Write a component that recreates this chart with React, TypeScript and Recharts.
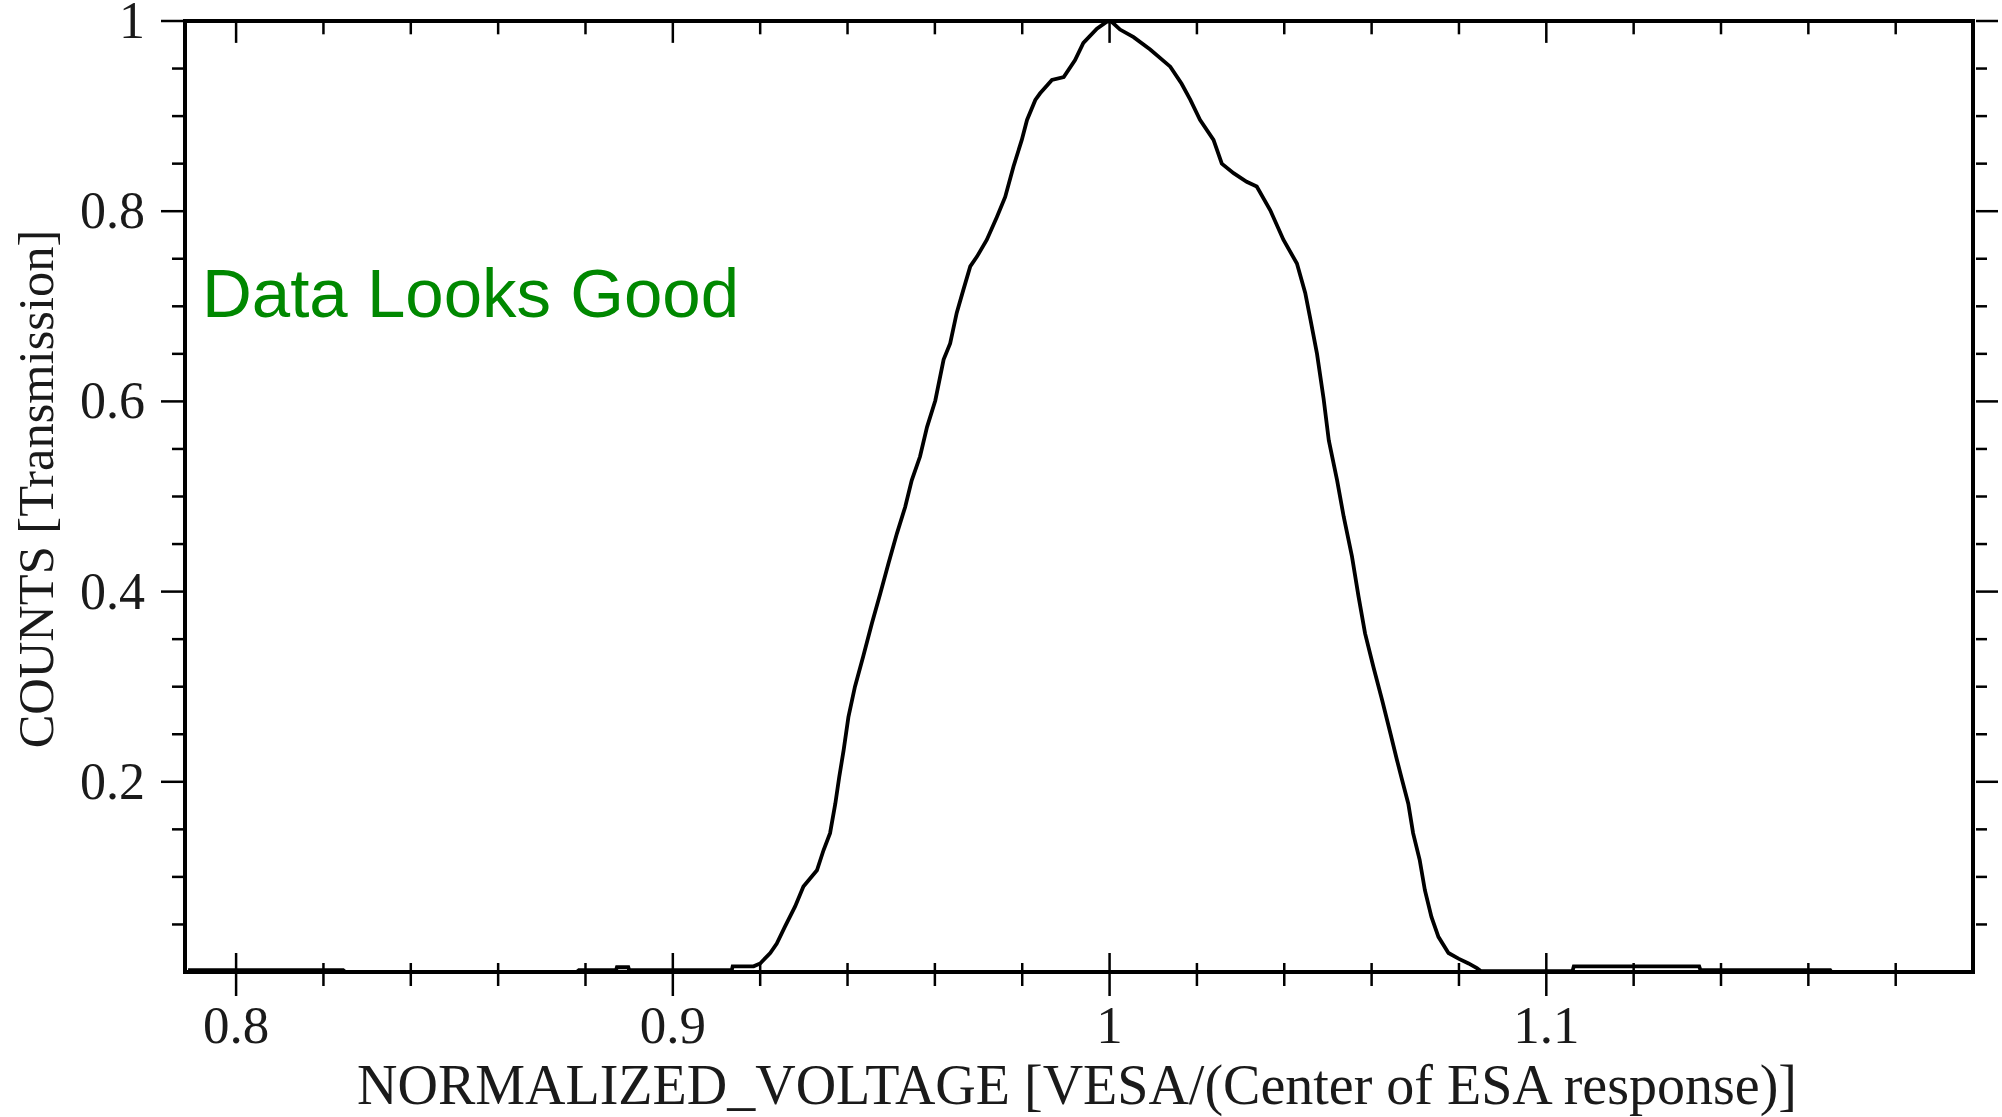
import { LineChart, Line, XAxis, YAxis, ReferenceLine } from "recharts"

// ESA transmission curve
const voltage = [
  0.789, 0.8245, 0.825, 0.878, 0.8785, 0.887, 0.8872, 0.8898, 0.89, 0.9135,
  0.9137, 0.9185, 0.92, 0.9223, 0.9238, 0.9257, 0.928, 0.9299, 0.933, 0.9345,
  0.936, 0.9372, 0.9381, 0.9391, 0.9402, 0.9417, 0.9436, 0.9456, 0.9475, 0.9494,
  0.9513, 0.9532, 0.9547, 0.9566, 0.9582, 0.9601, 0.962, 0.9635, 0.965, 0.9665,
  0.9681, 0.9696, 0.9719, 0.9742, 0.9761, 0.978, 0.9799, 0.9811, 0.983, 0.9841,
  0.9868, 0.9895, 0.9921, 0.994, 0.9971, 0.9993, 1.0003, 1.0024, 1.0055, 1.0093,
  1.0139, 1.0165, 1.0185, 1.0207, 1.0238, 1.0257, 1.0284, 1.0314, 1.0337, 1.0368,
  1.0398, 1.0429, 1.0448, 1.046, 1.0475, 1.049, 1.0502, 1.0521, 1.0536, 1.0555,
  1.057, 1.0585, 1.0604, 1.0624, 1.0643, 1.0658, 1.0668, 1.0684, 1.0695, 1.071,
  1.0722, 1.0737, 1.0753, 1.0776, 1.0799, 1.0822, 1.0841, 1.085, 1.106, 1.1063,
  1.135, 1.1353, 1.165, 1.1653, 1.1977,
]

const counts = [
  0.002, 0.002, 0.0, 0.0, 0.002, 0.002, 0.005, 0.005, 0.002, 0.002,
  0.006, 0.006, 0.009, 0.02, 0.03, 0.048, 0.069, 0.09, 0.107, 0.128,
  0.146, 0.177, 0.205, 0.233, 0.268, 0.3, 0.332, 0.367, 0.398, 0.43,
  0.461, 0.489, 0.517, 0.542, 0.573, 0.601, 0.644, 0.661, 0.693, 0.717,
  0.742, 0.752, 0.77, 0.794, 0.815, 0.847, 0.875, 0.896, 0.917, 0.924,
  0.938, 0.941, 0.959, 0.977, 0.992, 0.999, 1.0, 0.991, 0.983, 0.97,
  0.952, 0.934, 0.917, 0.896, 0.875, 0.85, 0.84, 0.831, 0.826, 0.801,
  0.77, 0.745, 0.714, 0.686, 0.65, 0.603, 0.559, 0.517, 0.479, 0.437,
  0.395, 0.356, 0.321, 0.286, 0.251, 0.223, 0.205, 0.177, 0.146, 0.118,
  0.086, 0.058, 0.037, 0.02, 0.014, 0.009, 0.004, 0.001, 0.001, 0.006,
  0.006, 0.002, 0.002, 0.0, 0.0,
]

const xTicks = [
  0.8, 0.82, 0.84, 0.86, 0.88, 0.9, 0.92, 0.94, 0.96, 0.98,
  1, 1.02, 1.04, 1.06, 1.08, 1.1, 1.12, 1.14, 1.16, 1.18,
]
const xLabels = [0.8, 0.9, 1, 1.1]

const yTicks = [
  0.05, 0.1, 0.15, 0.2, 0.25, 0.3, 0.35, 0.4, 0.45, 0.5,
  0.55, 0.6, 0.65, 0.7, 0.75, 0.8, 0.85, 0.9, 0.95, 1,
]
const yLabels = [0.2, 0.4, 0.6, 0.8, 1]

const xDomain = [0.7883, 1.1977]
const yDomain = [0, 1]

const data = voltage.map((v, i) => ({ x: v, y: counts[i] }))

const W = 2002
const H = 1117
const TOP = 21

const serif = "'Liberation Serif', 'Times New Roman', serif"
const frame = { stroke: "#000", strokeWidth: 4, strokeLinecap: "square" as const }
const isIn = (list: number[], v: number) => list.some((l) => Math.abs(l - v) < 1e-6)

// bottom ticks cross the frame
const BottomTick = (props: any) => {
  const { x, y, payload } = props
  const major = isIn(xLabels, payload.value)
  return (
    <g>
      <line x1={x} x2={x} y1={y - (major ? 19 : 9)} y2={y + (major ? 24 : 14)} stroke="#000" strokeWidth={2.5} />
      {major && (
        <text x={x} y={y + 71} textAnchor="middle" fontFamily={serif} fontSize={53} fill="#1a1a1a">
          {String(payload.value)}
        </text>
      )}
    </g>
  )
}

const LeftTick = (props: any) => {
  const { x, y, payload } = props
  const major = isIn(yLabels, payload.value)
  return (
    <g>
      <line x1={x - (major ? 24 : 13)} x2={x} y1={y} y2={y} stroke="#000" strokeWidth={2.5} />
      {major && (
        <text x={x - 40} y={y + 17} textAnchor="end" fontFamily={serif} fontSize={52} fill="#1a1a1a">
          {String(payload.value)}
        </text>
      )}
    </g>
  )
}

const RightTick = (props: any) => {
  const { x, y, payload } = props
  const major = isIn(yLabels, payload.value)
  return <line x1={x + 3} x2={x + (major ? 25 : 14)} y1={y} y2={y} stroke="#000" strokeWidth={2.5} />
}

export default function App() {
  return (
    <div style={{ position: "absolute", left: 0, top: 0, width: W, height: H, background: "#fff" }}>
      <svg width={W} height={H} style={{ position: "absolute", left: 0, top: 0 }}>
        <text x={1077} y={1104} textAnchor="middle" fontFamily={serif} fontSize={56} fill="#1a1a1a">
          NORMALIZED_VOLTAGE [VESA/(Center of ESA response)]
        </text>
        <text
          x={53}
          y={489}
          textAnchor="middle"
          transform="rotate(-90 53 489)"
          fontFamily={serif}
          fontSize={50.5}
          fill="#1a1a1a"
        >
          COUNTS [Transmission]
        </text>
        <text x={202} y={317} fontFamily="'Liberation Sans', Arial, sans-serif" fontSize={69} fill="#008800">
          Data Looks Good
        </text>
      </svg>
      <LineChart width={W} height={H} data={data} margin={{ top: TOP, right: 0, bottom: 0, left: 0 }}>
        <XAxis
          xAxisId="bottom"
          dataKey="x"
          type="number"
          domain={xDomain}
          allowDataOverflow
          ticks={xTicks}
          interval={0}
          height={145}
          tickSize={0}
          tickMargin={0}
          tickLine={false}
          axisLine={frame}
          tick={<BottomTick />}
        />
        <YAxis
          yAxisId="left"
          type="number"
          domain={yDomain}
          allowDataOverflow
          ticks={yTicks}
          interval={0}
          width={185}
          tickSize={0}
          tickMargin={0}
          tickLine={false}
          axisLine={frame}
          tick={<LeftTick />}
        />
        <YAxis
          yAxisId="right"
          orientation="right"
          type="number"
          domain={yDomain}
          allowDataOverflow
          ticks={yTicks}
          interval={0}
          width={29}
          tickSize={0}
          tickMargin={0}
          tickLine={false}
          axisLine={frame}
          tick={<RightTick />}
        />
        {/* top frame and its inward ticks */}
        <ReferenceLine xAxisId="bottom" yAxisId="left" y={1} stroke="#000" strokeWidth={4} ifOverflow="visible" />
        {xTicks.map((t) => (
          <ReferenceLine
            key={t}
            xAxisId="bottom"
            yAxisId="left"
            segment={[
              { x: t, y: 1 },
              { x: t, y: isIn(xLabels, t) ? 0.977 : 0.986 },
            ]}
            stroke="#000"
            strokeWidth={2.5}
            ifOverflow="visible"
          />
        ))}
        <Line
          xAxisId="bottom"
          yAxisId="left"
          type="linear"
          dataKey="y"
          stroke="#000"
          strokeWidth={3.8}
          dot={false}
          activeDot={false}
          isAnimationActive={false}
        />
      </LineChart>
    </div>
  )
}
